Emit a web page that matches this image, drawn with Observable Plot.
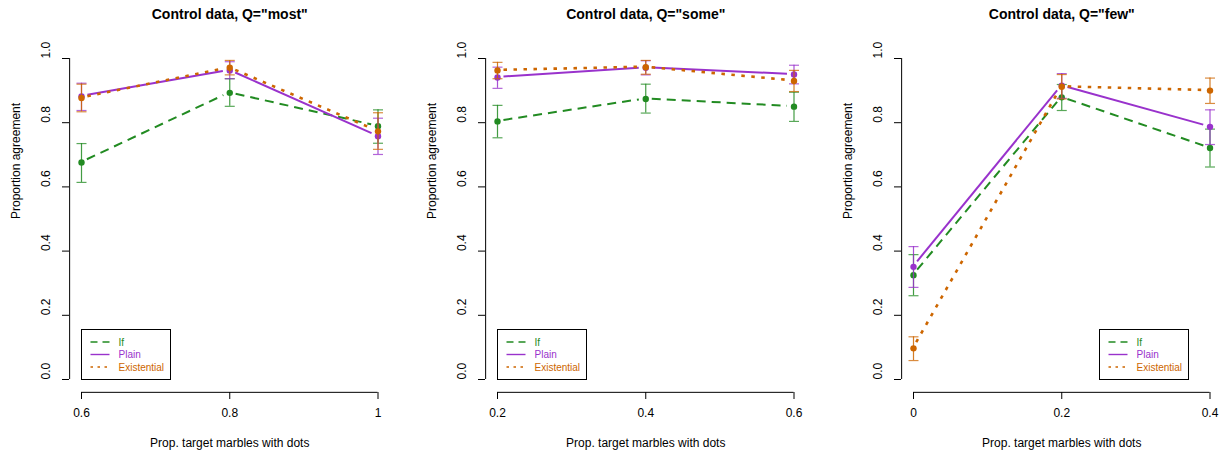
<!DOCTYPE html>
<html><head><meta charset="utf-8">
<script src="https://cdn.jsdelivr.net/npm/d3@7"></script>
<script src="https://cdn.jsdelivr.net/npm/@observablehq/plot@0.6"></script>
<style>
body{margin:0;background:#fff;}
#chart{position:relative;width:1220px;height:456px;overflow:hidden;}
.panel{position:absolute;top:0;}
</style></head><body><div id="chart"></div>
<script>
// ---- data ----
const panelTitles = ['Control data, Q="most"', 'Control data, Q="some"', 'Control data, Q="few"'];
const panelX = [[0.6, 0.8, 1], [0.2, 0.4, 0.6], [0, 0.2, 0.4]];
const xTickLabels = [["0.6", "0.8", "1"], ["0.2", "0.4", "0.6"], ["0", "0.2", "0.4"]];
const yTicks = [0, 0.2, 0.4, 0.6, 0.8, 1.0];
const yTickLabels = ["0.0", "0.2", "0.4", "0.6", "0.8", "1.0"];
const series = ["If", "Plain", "Existential"];
const legendSide = ["left", "left", "right"];
const xTitle = "Prop. target marbles with dots";
const yTitle = "Proportion agreement";

const ifMean = [[0.676, 0.893, 0.789], [0.804, 0.874, 0.850], [0.325, 0.879, 0.721]];
const ifLo   = [[0.614, 0.851, 0.736], [0.753, 0.830, 0.804], [0.261, 0.838, 0.662]];
const ifHi   = [[0.735, 0.937, 0.840], [0.854, 0.920, 0.895], [0.389, 0.919, 0.780]];

const plainMean = [[0.882, 0.963, 0.758], [0.941, 0.971, 0.950], [0.351, 0.915, 0.787]];
const plainLo   = [[0.838, 0.937, 0.701], [0.907, 0.949, 0.921], [0.287, 0.876, 0.732]];
const plainHi   = [[0.923, 0.990, 0.814], [0.973, 0.993, 0.979], [0.414, 0.953, 0.840]];

const existMean = [[0.877, 0.971, 0.773], [0.963, 0.973, 0.930], [0.097, 0.912, 0.900]];
const existLo   = [[0.834, 0.949, 0.717], [0.937, 0.951, 0.897], [0.059, 0.874, 0.860]];
const existHi   = [[0.920, 0.994, 0.831], [0.988, 0.994, 0.963], [0.133, 0.950, 0.939]];

// ---- styles ----
const colors = ["#228B22", "#9932CC", "#CD6600"];
const lineWidths = [2, 2, 2.6];
const dashes = ["9,6", null, "3.5,6.5"];
const legendDashes = ["7,5", null, "2.5,4.5"];
const FONT = '"Liberation Sans", Arial, Helvetica, sans-serif';

const means = [ifMean, plainMean, existMean];
const los = [ifLo, plainLo, existLo];
const his = [ifHi, plainHi, existHi];

const panelLeft = [0, 416, 832];
const panelWidth = [416, 416, 388];

const capSymbol = {
  draw(ctx, size) {
    const w = Math.sqrt(size / Math.PI);
    ctx.moveTo(-w, 0); ctx.lineTo(w, 0);
  }
};

function gapped(pts, color, width, dash, gap) {
  return (index, scales) => {
    const g = d3.create("svg:g").attr("fill", "none").attr("stroke", color)
      .attr("stroke-width", width);
    if (dash) g.attr("stroke-dasharray", dash);
    for (let i = 0; i < pts.length - 1; i++) {
      const x1 = scales.x(pts[i].x), y1 = scales.y(pts[i].y);
      const x2 = scales.x(pts[i + 1].x), y2 = scales.y(pts[i + 1].y);
      const L = Math.hypot(x2 - x1, y2 - y1);
      if (L <= 2 * gap) continue;
      const ux = (x2 - x1) / L, uy = (y2 - y1) / L;
      g.append("line")
        .attr("x1", x1 + ux * gap).attr("y1", y1 + uy * gap)
        .attr("x2", x2 - ux * gap).attr("y2", y2 - uy * gap);
    }
    return g.node();
  };
}

function legend(xmin, xmax, side) {
  return (index, scales) => {
    const W = 89, H = 50;
    const left = side === "left"
      ? Math.round(scales.x(xmin)) + 0.5
      : Math.round(scales.x(xmax)) - 22 - W + 0.5;
    const bottom = Math.round(scales.y(0)) + 0.5;
    const top = bottom - H;
    const g = d3.create("svg:g");
    g.append("rect").attr("x", left).attr("y", top).attr("width", W).attr("height", H)
      .attr("fill", "white").attr("stroke", "black").attr("stroke-width", 1);
    series.forEach((s, i) => {
      const y = top + 12.5 + i * 12.5;
      const ln = g.append("line").attr("x1", left + 9).attr("x2", left + 28)
        .attr("y1", y).attr("y2", y).attr("stroke", colors[i]).attr("stroke-width", 1.4);
      if (legendDashes[i]) ln.attr("stroke-dasharray", legendDashes[i]);
      g.append("text").attr("x", left + 37).attr("y", y).attr("dy", "0.35em")
        .attr("text-anchor", "start")
        .attr("fill", colors[i]).attr("font-size", 10).attr("font-family", FONT).text(s);
    });
    return g.node();
  };
}

const chart = document.getElementById("chart");

for (let p = 0; p < 3; p++) {
  const xs = panelX[p];
  const xmin = xs[0], xmax = xs[xs.length - 1], r = xmax - xmin;
  const labelOf = new Map(xs.map((x, i) => [x, xTickLabels[p][i]]));
  const marks = [];
  // axes
  marks.push(Plot.ruleX([xmin - 0.04 * r], {y1: 0, y2: 1, stroke: "black"}));
  marks.push(Plot.ruleY([-0.04], {x1: xmin, x2: xmax, stroke: "black"}));
  marks.push(Plot.axisY({ticks: yTicks, tickSize: 7, tickFormat: () => "", label: null, stroke: "black"}));
  marks.push(Plot.axisX({ticks: xs, tickSize: 7, tickPadding: 9, tickFormat: d => labelOf.get(d), label: null, fontSize: 12, stroke: "black", fill: "black"}));
  marks.push(Plot.text(yTicks, {y: d => d, text: (d, i) => yTickLabels[i], frameAnchor: "left", dx: -23, rotate: -90, fontSize: 12, fill: "black"}));
  marks.push(Plot.text([yTitle], {y: 0.5, frameAnchor: "left", dx: -53, rotate: -90, fontSize: 12, fill: "black"}));
  marks.push(Plot.text([xTitle], {x: (xmin + xmax) / 2, frameAnchor: "bottom", dy: 54, fontSize: 12, fill: "black"}));
  marks.push(Plot.text([panelTitles[p]], {x: (xmin + xmax) / 2, frameAnchor: "top", dy: -49, fontSize: 14, fontWeight: "bold", fill: "black"}));

  // series
  series.forEach((s, si) => {
    const rows = xs.map((x, i) => ({x, y: means[si][p][i], lo: los[si][p][i], hi: his[si][p][i]}));
    marks.push(gapped(rows, colors[si], lineWidths[si], dashes[si], 6.5));
    marks.push(Plot.ruleX(rows, {x: "x", y1: "lo", y2: "hi", stroke: colors[si], strokeWidth: 1.2, strokeOpacity: 0.85}));
    marks.push(Plot.dot(rows, {x: "x", y: "lo", symbol: capSymbol, r: 5, stroke: colors[si], strokeWidth: 1.2, strokeOpacity: 0.75, fill: "none"}));
    marks.push(Plot.dot(rows, {x: "x", y: "hi", symbol: capSymbol, r: 5, stroke: colors[si], strokeWidth: 1.2, strokeOpacity: 0.75, fill: "none"}));
    marks.push(Plot.dot(rows, {x: "x", y: "y", r: 3.2, fill: colors[si], stroke: "none"}));
  });
  marks.push(legend(xmin, xmax, legendSide[p]));

  const svg = Plot.plot({
    width: panelWidth[p], height: 456,
    marginLeft: 69, marginRight: panelWidth[p] - 389, marginTop: 58, marginBottom: 64,
    x: {domain: [xmin, xmax], range: [81, 377.5], axis: null},
    y: {domain: [0, 1], range: [379, 58], axis: null},
    style: {fontFamily: FONT, fontSize: "12px", color: "black", background: "transparent", overflow: "visible"},
    marks
  });
  const div = document.createElement("div");
  div.className = "panel";
  div.style.left = panelLeft[p] + "px";
  div.appendChild(svg);
  chart.appendChild(div);
}
</script></body></html>
